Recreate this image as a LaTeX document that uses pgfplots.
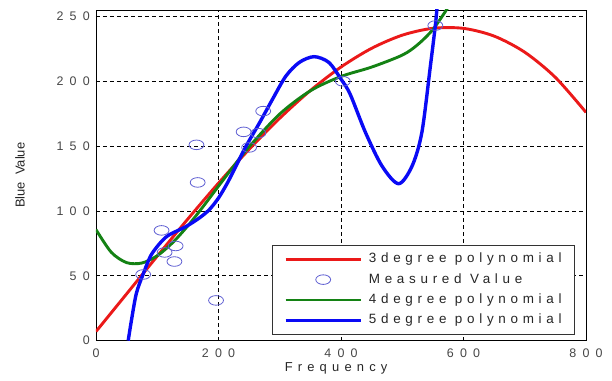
\documentclass[border=0pt]{standalone}
\usepackage{fontspec}
\setmainfont{Liberation Sans}
\newfontfamily\spacedA[LetterSpace=50]{Liberation Sans}
\newfontfamily\spacedB[LetterSpace=35]{Liberation Sans}
\newfontfamily\spacedC[LetterSpace=40]{Liberation Sans}
\usepackage{pgfplots}
\pgfplotsset{compat=1.18}
\pgfplotsset{
  lineleg/.style={legend image code/.code={\draw[##1] (0bp,0bp) -- (75bp,0bp);}},
  markleg/.style={legend image code/.code={\draw[mark repeat=2, mark phase=2, ##1] plot coordinates {(0bp,0bp) (37.5bp,0bp) (75bp,0bp)};}},
}
\definecolor{cred}{RGB}{235,25,25}
\definecolor{cgreen}{RGB}{20,130,20}
\definecolor{cblue}{RGB}{10,10,245}
\definecolor{cmark}{RGB}{95,95,210}
\definecolor{tickgray}{RGB}{70,70,70}
\begin{document}
\begin{tikzpicture}
\begin{axis}[
  scale only axis, width=490bp, height=330.6bp,
  xmin=0, xmax=800, ymin=0, ymax=255,
  xtick={0,200,400,600,800}, ytick={0,50,100,150,200,250},
  grid=major,
  major grid style={black, line width=0.6bp, dash pattern=on 4bp off 3bp},
  axis line style={black, line width=0.8bp},
  tick style={draw=none},
  /pgf/number format/assume math mode=true,
  xticklabel style={font=\fontsize{12.5}{14}\selectfont\spacedA, text=tickgray, anchor=base, yshift=-17bp},
  yticklabel style={font=\fontsize{12.5}{14}\selectfont\spacedA, text=tickgray, anchor=east, inner sep=0pt, xshift=-6bp},
  every axis x label/.style={at={(axis description cs:0.49,-0.093)}, anchor=base, font=\fontsize{13}{15}\selectfont\spacedC, text=black!85},
  every axis y label/.style={at={(axis description cs:-0.155,0.5)}, rotate=90, anchor=center, font=\fontsize{13}{15}\selectfont, text=black!85},
  xlabel={Frequency},
  ylabel={Blue\ \ Value},
  legend cell align=left,
  legend style={at={(0.9776,0.019)}, anchor=south east, draw=black!80, line width=0.8bp, fill=white,
    font=\fontsize{13.5}{15}\selectfont\spacedB, text=black!85,
    inner xsep=11.5bp, inner ysep=5.5bp, row sep=4.4bp, column sep=5bp,
    nodes={inner sep=1.5bp, text height=10bp, text depth=3bp}},
]
\addplot[cred, line width=2.9bp, smooth, lineleg] coordinates {
(0,7) (50,36.05) (100,65.17) (150,93.82) (200,121.46) (250,147.55) (300,171.54)
(350,192.88) (400,211.02) (450,225.44) (500,235.58) (550,240.89) (600,240.83)
(650,234.87) (700,222.44) (750,203.02) (800,176.04)};
\addlegendentry{3degree polynomial}
\addplot[only marks, mark=o, mark size=4.8bp, mark options={cmark, line width=0.8bp, xscale=1.55}, markleg]
coordinates {
(77,51) (107,85) (112,68) (130,73) (128,61) (196,31) (166,122) (164,151)
(241,161) (250,149) (265,160) (273,177) (403,200) (554,243)};
\addlegendentry{Measured Value}
\addplot[cgreen, line width=2.9bp, smooth, lineleg] coordinates {
(0,85.6) (25,68.11) (50,60.15) (75,59.84) (100,65.47) (125,75.51) (150,88.57)
(175,103.45) (200,119.13) (225,134.7) (250,149.52) (300,174.79) (350,192.69)
(400,203.72) (450,210.96) (500,220.2) (525,228.2) (550,239.93) (575,257.2)};
\addlegendentry{4degree polynomial}
\addplot[cblue, line width=3.4bp, smooth, lineleg] coordinates {
(52.6,0) (58,16) (66,36.6) (77,51.3) (90,66) (107,76.5) (120,81.7) (147,88)
(169,94.7) (185,101) (200,110) (215,122) (230,136) (245,150) (267,168) (288,186)
(310,204) (332,214.6) (356,219) (380,214.6) (400,201.7) (415,190) (440,160.5)
(467,134.6) (494,121) (516,134.6) (532,160.5) (546,212) (554,243) (557,258)};
\addlegendentry{5degree polynomial}
\end{axis}
\pgfresetboundingbox
\path (-96bp,-40.4bp) rectangle (516bp,340.6bp);
\end{tikzpicture}
\end{document}
